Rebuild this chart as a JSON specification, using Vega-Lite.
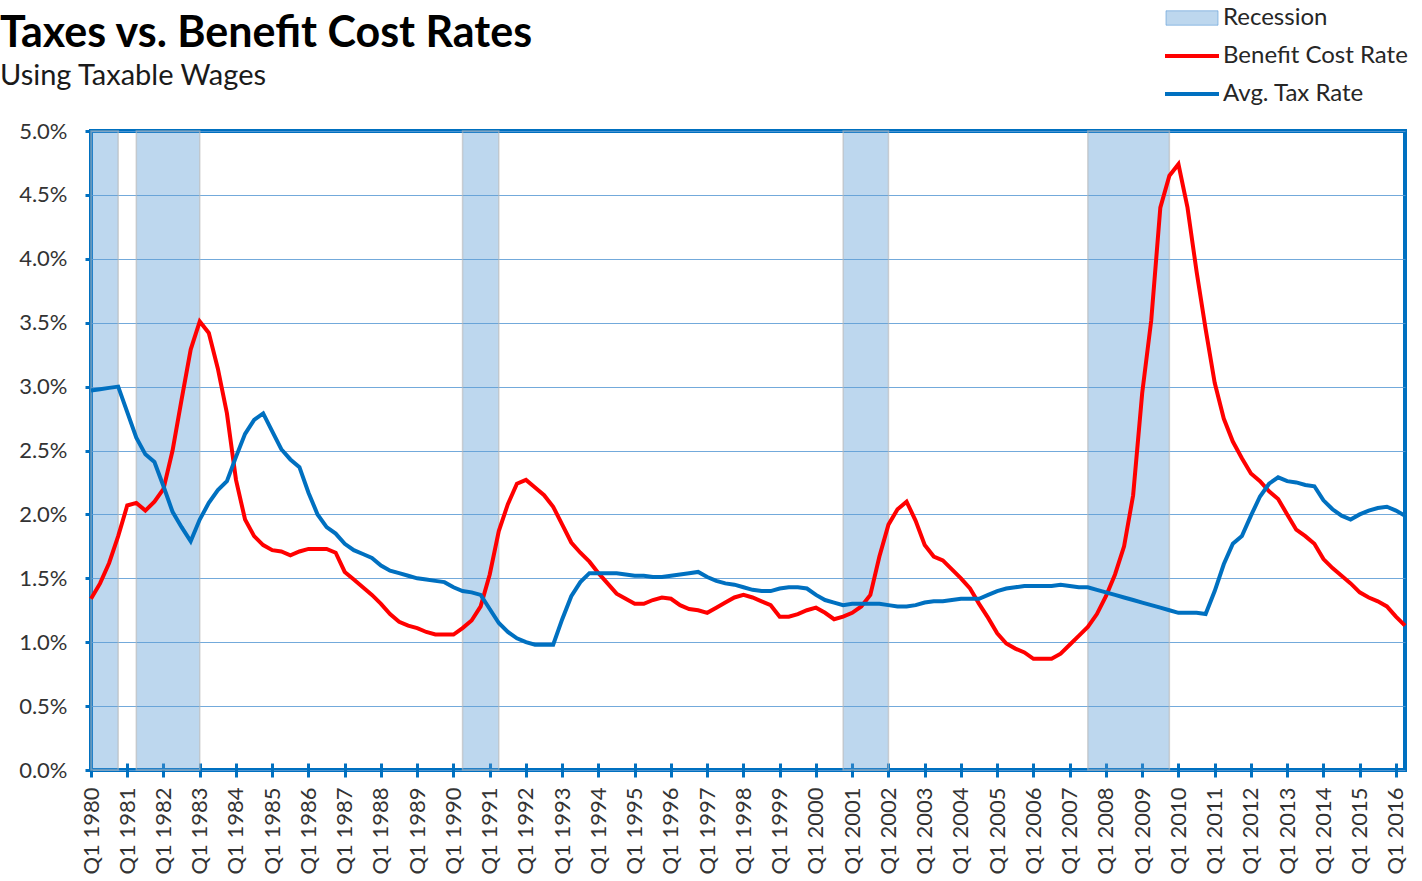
{
  "$schema": "https://vega.github.io/schema/vega-lite/v6.json",
  "width": 1314,
  "height": 639,
  "autosize": {"type": "none"},
  "padding": {"left": 91, "top": 131, "right": 17, "bottom": 111},
  "background": "white",
  "title": {
    "text": "Taxes vs. Benefit Cost Rates",
    "subtitle": "Using Taxable Wages",
    "anchor": "start",
    "frame": "group",
    "dx": -91,
    "dy": 85,
    "offset": 0,
    "font": "Lato",
    "fontSize": 43,
    "fontWeight": "bold",
    "color": "#000000",
    "subtitleFont": "Lato",
    "subtitleFontSize": 29,
    "subtitleColor": "#1a1a1a",
    "subtitlePadding": 6
  },
  "config": {
    "view": {"stroke": "#0070C0", "strokeWidth": 4},
    "axis": {
      "labelFont": "Lato",
      "labelFontSize": 22,
      "labelColor": "#333333",
      "title": null,
      "domain": false,
      "tickColor": "#0070C0",
      "tickWidth": 3
    },
    "legend": {
      "orient": "none",
      "legendX": 1089,
      "legendY": -125,
      "title": null,
      "padding": 0,
      "symbolSize": 400,
      "labelOffset": 19,
      "rowPadding": 14,
      "labelFont": "Lato",
      "labelFontSize": 24,
      "labelColor": "#262626",
      "labelLimit": 400
    }
  },
  "datasets": {
    "rates": [
      {"t": 1980, "benefit": 1.34, "tax": 2.97},
      {"t": 1980.25, "benefit": 1.46, "tax": 2.98},
      {"t": 1980.5, "benefit": 1.62, "tax": 2.99},
      {"t": 1980.75, "benefit": 1.83, "tax": 3.00},
      {"t": 1981, "benefit": 2.07, "tax": 2.80},
      {"t": 1981.25, "benefit": 2.09, "tax": 2.60},
      {"t": 1981.5, "benefit": 2.03, "tax": 2.47},
      {"t": 1981.75, "benefit": 2.10, "tax": 2.41},
      {"t": 1982, "benefit": 2.20, "tax": 2.22},
      {"t": 1982.25, "benefit": 2.50, "tax": 2.02},
      {"t": 1982.5, "benefit": 2.90, "tax": 1.90},
      {"t": 1982.75, "benefit": 3.29, "tax": 1.79},
      {"t": 1983, "benefit": 3.51, "tax": 1.96},
      {"t": 1983.25, "benefit": 3.42, "tax": 2.09},
      {"t": 1983.5, "benefit": 3.14, "tax": 2.19},
      {"t": 1983.75, "benefit": 2.79, "tax": 2.26},
      {"t": 1984, "benefit": 2.27, "tax": 2.45},
      {"t": 1984.25, "benefit": 1.96, "tax": 2.63},
      {"t": 1984.5, "benefit": 1.83, "tax": 2.74},
      {"t": 1984.75, "benefit": 1.76, "tax": 2.79},
      {"t": 1985, "benefit": 1.72, "tax": 2.65},
      {"t": 1985.25, "benefit": 1.71, "tax": 2.51},
      {"t": 1985.5, "benefit": 1.68, "tax": 2.43},
      {"t": 1985.75, "benefit": 1.71, "tax": 2.37},
      {"t": 1986, "benefit": 1.73, "tax": 2.17},
      {"t": 1986.25, "benefit": 1.73, "tax": 2.00},
      {"t": 1986.5, "benefit": 1.73, "tax": 1.90},
      {"t": 1986.75, "benefit": 1.70, "tax": 1.85},
      {"t": 1987, "benefit": 1.55, "tax": 1.77},
      {"t": 1987.25, "benefit": 1.49, "tax": 1.72},
      {"t": 1987.5, "benefit": 1.43, "tax": 1.69},
      {"t": 1987.75, "benefit": 1.37, "tax": 1.66},
      {"t": 1988, "benefit": 1.30, "tax": 1.60},
      {"t": 1988.25, "benefit": 1.22, "tax": 1.56},
      {"t": 1988.5, "benefit": 1.16, "tax": 1.54},
      {"t": 1988.75, "benefit": 1.13, "tax": 1.52},
      {"t": 1989, "benefit": 1.11, "tax": 1.50},
      {"t": 1989.25, "benefit": 1.08, "tax": 1.49},
      {"t": 1989.5, "benefit": 1.06, "tax": 1.48},
      {"t": 1989.75, "benefit": 1.06, "tax": 1.47},
      {"t": 1990, "benefit": 1.06, "tax": 1.43},
      {"t": 1990.25, "benefit": 1.11, "tax": 1.40},
      {"t": 1990.5, "benefit": 1.17, "tax": 1.39},
      {"t": 1990.75, "benefit": 1.28, "tax": 1.37},
      {"t": 1991, "benefit": 1.53, "tax": 1.26},
      {"t": 1991.25, "benefit": 1.87, "tax": 1.15},
      {"t": 1991.5, "benefit": 2.08, "tax": 1.08},
      {"t": 1991.75, "benefit": 2.24, "tax": 1.03},
      {"t": 1992, "benefit": 2.27, "tax": 1.00},
      {"t": 1992.25, "benefit": 2.21, "tax": 0.98},
      {"t": 1992.5, "benefit": 2.15, "tax": 0.98},
      {"t": 1992.75, "benefit": 2.06, "tax": 0.98},
      {"t": 1993, "benefit": 1.92, "tax": 1.18},
      {"t": 1993.25, "benefit": 1.78, "tax": 1.36},
      {"t": 1993.5, "benefit": 1.70, "tax": 1.47},
      {"t": 1993.75, "benefit": 1.63, "tax": 1.54},
      {"t": 1994, "benefit": 1.54, "tax": 1.54},
      {"t": 1994.25, "benefit": 1.46, "tax": 1.54},
      {"t": 1994.5, "benefit": 1.38, "tax": 1.54},
      {"t": 1994.75, "benefit": 1.34, "tax": 1.53},
      {"t": 1995, "benefit": 1.30, "tax": 1.52},
      {"t": 1995.25, "benefit": 1.30, "tax": 1.52},
      {"t": 1995.5, "benefit": 1.33, "tax": 1.51},
      {"t": 1995.75, "benefit": 1.35, "tax": 1.51},
      {"t": 1996, "benefit": 1.34, "tax": 1.52},
      {"t": 1996.25, "benefit": 1.29, "tax": 1.53},
      {"t": 1996.5, "benefit": 1.26, "tax": 1.54},
      {"t": 1996.75, "benefit": 1.25, "tax": 1.55},
      {"t": 1997, "benefit": 1.23, "tax": 1.51},
      {"t": 1997.25, "benefit": 1.27, "tax": 1.48},
      {"t": 1997.5, "benefit": 1.31, "tax": 1.46},
      {"t": 1997.75, "benefit": 1.35, "tax": 1.45},
      {"t": 1998, "benefit": 1.37, "tax": 1.43},
      {"t": 1998.25, "benefit": 1.35, "tax": 1.41},
      {"t": 1998.5, "benefit": 1.32, "tax": 1.40},
      {"t": 1998.75, "benefit": 1.29, "tax": 1.40},
      {"t": 1999, "benefit": 1.20, "tax": 1.42},
      {"t": 1999.25, "benefit": 1.20, "tax": 1.43},
      {"t": 1999.5, "benefit": 1.22, "tax": 1.43},
      {"t": 1999.75, "benefit": 1.25, "tax": 1.42},
      {"t": 2000, "benefit": 1.27, "tax": 1.37},
      {"t": 2000.25, "benefit": 1.23, "tax": 1.33},
      {"t": 2000.5, "benefit": 1.18, "tax": 1.31},
      {"t": 2000.75, "benefit": 1.20, "tax": 1.29},
      {"t": 2001, "benefit": 1.23, "tax": 1.30},
      {"t": 2001.25, "benefit": 1.28, "tax": 1.30},
      {"t": 2001.5, "benefit": 1.37, "tax": 1.30},
      {"t": 2001.75, "benefit": 1.67, "tax": 1.30},
      {"t": 2002, "benefit": 1.92, "tax": 1.29},
      {"t": 2002.25, "benefit": 2.04, "tax": 1.28},
      {"t": 2002.5, "benefit": 2.10, "tax": 1.28},
      {"t": 2002.75, "benefit": 1.95, "tax": 1.29},
      {"t": 2003, "benefit": 1.76, "tax": 1.31},
      {"t": 2003.25, "benefit": 1.67, "tax": 1.32},
      {"t": 2003.5, "benefit": 1.64, "tax": 1.32},
      {"t": 2003.75, "benefit": 1.57, "tax": 1.33},
      {"t": 2004, "benefit": 1.50, "tax": 1.34},
      {"t": 2004.25, "benefit": 1.42, "tax": 1.34},
      {"t": 2004.5, "benefit": 1.30, "tax": 1.34},
      {"t": 2004.75, "benefit": 1.19, "tax": 1.37},
      {"t": 2005, "benefit": 1.07, "tax": 1.40},
      {"t": 2005.25, "benefit": 0.99, "tax": 1.42},
      {"t": 2005.5, "benefit": 0.95, "tax": 1.43},
      {"t": 2005.75, "benefit": 0.92, "tax": 1.44},
      {"t": 2006, "benefit": 0.87, "tax": 1.44},
      {"t": 2006.25, "benefit": 0.87, "tax": 1.44},
      {"t": 2006.5, "benefit": 0.87, "tax": 1.44},
      {"t": 2006.75, "benefit": 0.91, "tax": 1.45},
      {"t": 2007, "benefit": 0.98, "tax": 1.44},
      {"t": 2007.25, "benefit": 1.05, "tax": 1.43},
      {"t": 2007.5, "benefit": 1.12, "tax": 1.43},
      {"t": 2007.75, "benefit": 1.22, "tax": 1.41},
      {"t": 2008, "benefit": 1.36, "tax": 1.39},
      {"t": 2008.25, "benefit": 1.53, "tax": 1.37},
      {"t": 2008.5, "benefit": 1.75, "tax": 1.35},
      {"t": 2008.75, "benefit": 2.15, "tax": 1.33},
      {"t": 2009, "benefit": 2.95, "tax": 1.31},
      {"t": 2009.25, "benefit": 3.52, "tax": 1.29},
      {"t": 2009.5, "benefit": 4.40, "tax": 1.27},
      {"t": 2009.75, "benefit": 4.65, "tax": 1.25},
      {"t": 2010, "benefit": 4.74, "tax": 1.23},
      {"t": 2010.25, "benefit": 4.40, "tax": 1.23},
      {"t": 2010.5, "benefit": 3.90, "tax": 1.23},
      {"t": 2010.75, "benefit": 3.45, "tax": 1.22},
      {"t": 2011, "benefit": 3.03, "tax": 1.40},
      {"t": 2011.25, "benefit": 2.75, "tax": 1.61},
      {"t": 2011.5, "benefit": 2.57, "tax": 1.77},
      {"t": 2011.75, "benefit": 2.44, "tax": 1.83},
      {"t": 2012, "benefit": 2.32, "tax": 1.99},
      {"t": 2012.25, "benefit": 2.26, "tax": 2.14},
      {"t": 2012.5, "benefit": 2.18, "tax": 2.24},
      {"t": 2012.75, "benefit": 2.12, "tax": 2.29},
      {"t": 2013, "benefit": 2.00, "tax": 2.26},
      {"t": 2013.25, "benefit": 1.88, "tax": 2.25},
      {"t": 2013.5, "benefit": 1.83, "tax": 2.23},
      {"t": 2013.75, "benefit": 1.77, "tax": 2.22},
      {"t": 2014, "benefit": 1.65, "tax": 2.11},
      {"t": 2014.25, "benefit": 1.58, "tax": 2.04},
      {"t": 2014.5, "benefit": 1.52, "tax": 1.99},
      {"t": 2014.75, "benefit": 1.46, "tax": 1.96},
      {"t": 2015, "benefit": 1.39, "tax": 2.00},
      {"t": 2015.25, "benefit": 1.35, "tax": 2.03},
      {"t": 2015.5, "benefit": 1.32, "tax": 2.05},
      {"t": 2015.75, "benefit": 1.28, "tax": 2.06},
      {"t": 2016, "benefit": 1.20, "tax": 2.03},
      {"t": 2016.25, "benefit": 1.13, "tax": 1.99}
    ],
    "recessions": [
      {"start": 1980, "end": 1980.75},
      {"start": 1981.25, "end": 1983},
      {"start": 1990.25, "end": 1991.25},
      {"start": 2000.75, "end": 2002},
      {"start": 2007.5, "end": 2009.75}
    ]
  },
  "encoding": {
    "x": {
      "field": "t",
      "type": "quantitative",
      "scale": {"domain": [1980, 2016.25], "nice": false, "zero": false},
      "axis": {
        "values": [1980, 1981, 1982, 1983, 1984, 1985, 1986, 1987, 1988, 1989, 1990, 1991, 1992, 1993, 1994, 1995, 1996, 1997, 1998, 1999, 2000, 2001, 2002, 2003, 2004, 2005, 2006, 2007, 2008, 2009, 2010, 2011, 2012, 2013, 2014, 2015, 2016],
        "labelExpr": "'Q1 ' + datum.value",
        "labelAngle": -90,
        "labelOverlap": false,
        "labelFlush": false,
        "labelBound": false,
        "grid": false,
        "tickSize": 14,
        "offset": -7,
        "labelPadding": 10
      }
    }
  },
  "layer": [
    {
      "data": {"name": "recessions"},
      "mark": {"type": "rect", "fillOpacity": 0.4, "stroke": "#B8B8B8", "strokeWidth": 1.5, "strokeOpacity": 0.6},
      "encoding": {
        "x": {"field": "start", "type": "quantitative"},
        "x2": {"field": "end"},
        "color": {
          "datum": "Recession",
          "type": "nominal",
          "scale": {
            "domain": ["Recession", "Benefit Cost Rate", "Avg. Tax Rate"],
            "range": ["#5B9BD5", "#FF0000", "#0070C0"]
          },
          "legend": {
            "encode": {
              "symbols": {
                "update": {
                  "shape": {"signal": "datum.value === 'Recession' ? 'M-2.6,-0.72H2.6V0.72H-2.6Z' : 'M-2.7,0H2.7'"},
                  "fill": {"signal": "datum.value === 'Recession' ? '#5B9BD5' : 'transparent'"},
                  "stroke": {"signal": "datum.value === 'Recession' ? '#BBBBBB' : (datum.value === 'Benefit Cost Rate' ? '#FF0000' : '#0070C0')"},
                  "strokeWidth": {"signal": "datum.value === 'Recession' ? 1 : 4"},
                  "opacity": {"value": 1},
                  "fillOpacity": {"signal": "datum.value === 'Recession' ? 0.4 : 1"},
                  "strokeOpacity": {"signal": "datum.value === 'Recession' ? 0.6 : 1"}
                }
              }
            }
          }
        }
      }
    },
    {
      "data": {"name": "rates"},
      "mark": {"type": "line", "strokeWidth": 4},
      "encoding": {
        "y": {
          "field": "benefit",
          "type": "quantitative",
          "scale": {"domain": [0, 5], "nice": false},
          "axis": {
            "values": [0, 0.5, 1, 1.5, 2, 2.5, 3, 3.5, 4, 4.5, 5],
            "labelExpr": "format(datum.value, '.1f') + '%'",
            "grid": true,
            "gridColor": "#5B9BD5",
            "gridWidth": 1,
            "gridOpacity": 0.85,
            "tickSize": 6,
            "labelPadding": 18
          }
        },
        "color": {
          "datum": "Benefit Cost Rate",
          "type": "nominal",
          "legend": {
            "encode": {
              "symbols": {
                "update": {
                  "shape": {"signal": "datum.value === 'Recession' ? 'M-2.6,-0.72H2.6V0.72H-2.6Z' : 'M-2.7,0H2.7'"},
                  "fill": {"signal": "datum.value === 'Recession' ? '#5B9BD5' : 'transparent'"},
                  "stroke": {"signal": "datum.value === 'Recession' ? '#BBBBBB' : (datum.value === 'Benefit Cost Rate' ? '#FF0000' : '#0070C0')"},
                  "strokeWidth": {"signal": "datum.value === 'Recession' ? 1 : 4"},
                  "opacity": {"value": 1},
                  "fillOpacity": {"signal": "datum.value === 'Recession' ? 0.4 : 1"},
                  "strokeOpacity": {"signal": "datum.value === 'Recession' ? 0.6 : 1"}
                }
              }
            }
          }
        }
      }
    },
    {
      "data": {"name": "rates"},
      "mark": {"type": "line", "strokeWidth": 4},
      "encoding": {
        "y": {"field": "tax", "type": "quantitative"},
        "color": {
          "datum": "Avg. Tax Rate",
          "type": "nominal",
          "legend": {
            "encode": {
              "symbols": {
                "update": {
                  "shape": {"signal": "datum.value === 'Recession' ? 'M-2.6,-0.72H2.6V0.72H-2.6Z' : 'M-2.7,0H2.7'"},
                  "fill": {"signal": "datum.value === 'Recession' ? '#5B9BD5' : 'transparent'"},
                  "stroke": {"signal": "datum.value === 'Recession' ? '#BBBBBB' : (datum.value === 'Benefit Cost Rate' ? '#FF0000' : '#0070C0')"},
                  "strokeWidth": {"signal": "datum.value === 'Recession' ? 1 : 4"},
                  "opacity": {"value": 1},
                  "fillOpacity": {"signal": "datum.value === 'Recession' ? 0.4 : 1"},
                  "strokeOpacity": {"signal": "datum.value === 'Recession' ? 0.6 : 1"}
                }
              }
            }
          }
        }
      }
    }
  ]
}
